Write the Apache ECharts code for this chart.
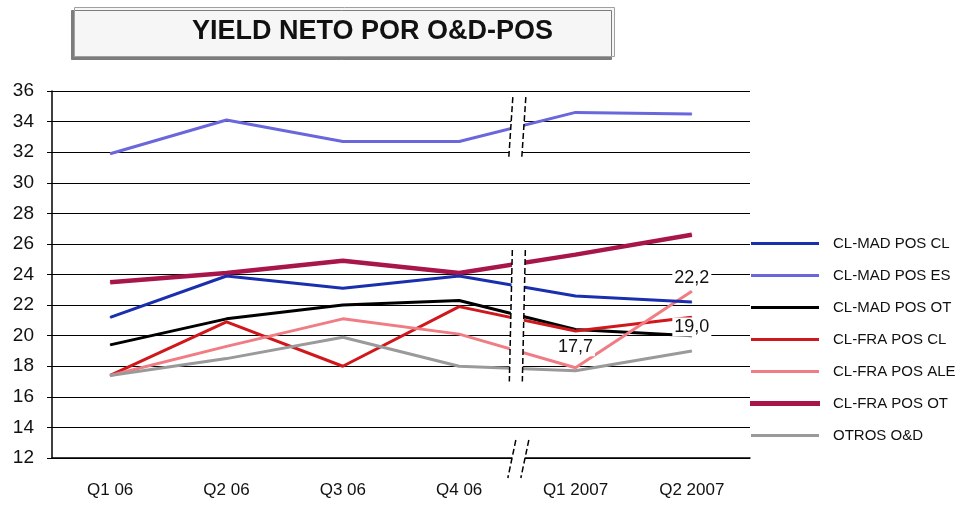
<!DOCTYPE html>
<html>
<head>
<meta charset="utf-8">
<script src="https://cdn.jsdelivr.net/npm/echarts@6/dist/echarts.min.js"></script>
<style>
  html, body { margin: 0; padding: 0; background: #ffffff; }
  #chart { width: 974px; height: 508px; }
</style>
</head>
<body>
<div id="chart"></div>
<script>
// Quarterly net yield by O&D / point of sale
const categories = ['Q1 06', 'Q2 06', 'Q3 06', 'Q4 06', 'Q1 2007', 'Q2 2007'];

const madPosCl  = [21.2, 23.9, 23.1, 23.9, 22.6, 22.2];
const madPosEs  = [31.9, 34.1, 32.7, 32.7, 34.6, 34.5];
const madPosOt  = [19.4, 21.1, 22.0, 22.3, 20.4, 20.0];
const fraPosCl  = [17.4, 20.9, 18.0, 21.9, 20.3, 21.2];
const fraPosAle = [17.4, 19.3, 21.1, 20.1, 17.9, 22.9];
const fraPosOt  = [23.5, 24.1, 24.9, 24.1, 25.3, 26.6];
const otrosOd   = [17.4, 18.5, 19.9, 18.0, 17.7, 19.0];

// value axis ticks
const yMin = 12, yMax = 36, yStep = 2;

// points that show their value: [series name, category index]
const labelledPoints = [
  ['CL-MAD POS CL', 5],
  ['OTROS O&D', 4],
  ['OTROS O&D', 5]
];

const FONT = '"Liberation Sans", Arial, sans-serif';

const seriesDefs = [
  { name: 'CL-MAD POS CL',  data: madPosCl,  color: '#1a2fae', width: 3 },
  { name: 'CL-MAD POS ES',  data: madPosEs,  color: '#6a66dc', width: 3 },
  { name: 'CL-MAD POS OT',  data: madPosOt,  color: '#000000', width: 3 },
  { name: 'CL-FRA POS CL',  data: fraPosCl,  color: '#d0181c', width: 3 },
  { name: 'CL-FRA POS ALE', data: fraPosAle, color: '#f07c84', width: 3 },
  { name: 'CL-FRA POS OT',  data: fraPosOt,  color: '#a8154a', width: 4.5 },
  { name: 'OTROS O&D',      data: otrosOd,   color: '#9a9a9a', width: 3 }
];

const fmt = v => v.toFixed(1).replace('.', ',');

const series = seriesDefs.map(def => {
  const marks = labelledPoints.filter(p => p[0] === def.name).map(p => p[1]);
  return {
    name: def.name,
    type: 'line',
    symbol: 'circle',
    symbolSize: 1,
    showSymbol: true,
    showAllSymbol: true,
    smooth: false,
    z: marks.length ? 4 : 2,
    color: def.color,
    itemStyle: { color: def.color },
    lineStyle: { color: def.color, width: def.width },
    data: def.data.map((v, i) => marks.includes(i) ? {
      value: v,
      label: {
        show: true,
        position: 'top',
        distance: 14,
        formatter: p => fmt(p.value),
        fontFamily: FONT,
        fontSize: 18,
        color: '#111',
        backgroundColor: '#ffffff',
        padding: [1, 2, 0, 2]
      }
    } : v)
  };
});

const chart = echarts.init(document.getElementById('chart'), null, { renderer: 'canvas' });

chart.setOption({
  animation: false,
  backgroundColor: '#ffffff',
  title: {
    text: 'YIELD NETO POR O&D-POS',
    left: 74,
    top: 7,
    padding: [11, 62, 11, 118],
    backgroundColor: '#f6f6f6',
    borderColor: '#a0a0a0',
    borderWidth: 1,
    shadowColor: '#7c7c7c',
    shadowBlur: 0,
    shadowOffsetX: -3,
    shadowOffsetY: 3,
    textStyle: {
      fontFamily: FONT,
      fontSize: 27,
      fontWeight: 'bold',
      color: '#111',
      lineHeight: 28
    }
  },
  legend: {
    orient: 'vertical',
    left: 750,
    top: 236,
    padding: 0,
    icon: 'rect',
    itemWidth: 68,
    itemHeight: 3,
    itemGap: 17,
    textStyle: {
      fontFamily: FONT,
      fontSize: 15,
      color: '#111',
      padding: [0, 0, 0, 9]
    },
    data: seriesDefs.map(d => ({
      name: d.name,
      itemStyle: d.width > 4
        ? { color: d.color, borderColor: d.color, borderWidth: 2 }
        : { color: d.color, borderWidth: 0 }
    }))
  },
  grid: { left: 52, right: 224, top: 91, bottom: 50, containLabel: false },
  xAxis: {
    type: 'category',
    data: categories,
    boundaryGap: true,
    axisLine: { lineStyle: { color: '#000', width: 1.5 } },
    axisTick: { show: false },
    axisLabel: { fontFamily: FONT, fontSize: 17, color: '#111', margin: 24 },
    splitLine: { show: false }
  },
  yAxis: {
    type: 'value',
    min: yMin,
    max: yMax,
    interval: yStep,
    axisLine: { show: true, lineStyle: { color: '#000', width: 1.5 } },
    axisTick: { show: true, length: 5, lineStyle: { color: '#000', width: 1 } },
    axisLabel: { fontFamily: FONT, fontSize: 19, color: '#111', margin: 18 },
    splitLine: { show: true, lineStyle: { color: '#000', width: 1 } }
  },
  series: series
});

// Axis-break marks between Q4 06 and Q1 2007
function breakMark(xMid, yTop, yBot, slant, halfGap) {
  const lx1 = xMid - halfGap + slant / 2, lx2 = xMid - halfGap - slant / 2;
  const rx1 = xMid + halfGap + slant / 2, rx2 = xMid + halfGap - slant / 2;
  const dash = { stroke: '#000', lineWidth: 1.5, lineDash: [6, 3], fill: null };
  return [
    {
      type: 'polygon', z: 100, silent: true,
      shape: { points: [[lx1, yTop], [rx1, yTop], [rx2, yBot], [lx2, yBot]] },
      style: { fill: '#ffffff', stroke: null }
    },
    { type: 'polyline', z: 101, silent: true, shape: { points: [[lx1, yTop], [lx2, yBot]] }, style: dash },
    { type: 'polyline', z: 101, silent: true, shape: { points: [[rx1, yTop], [rx2, yBot]] }, style: dash }
  ];
}

function drawBreaks() {
  const xa = chart.convertToPixel({ xAxisIndex: 0 }, categories[3]);
  const xb = chart.convertToPixel({ xAxisIndex: 0 }, categories[4]);
  const xMid = (xa + xb) / 2;
  const py = v => chart.convertToPixel({ yAxisIndex: 0 }, v);
  const axisY = py(yMin);
  const els = [].concat(
    breakMark(xMid, py(35.6), py(31.7), 4, 6.5),
    breakMark(xMid, py(25.6), py(17.0), 3, 6.5),
    breakMark(xMid + 1, axisY - 18, axisY + 20, 8, 6.5)
  );
  chart.setOption({ graphic: { elements: els } });
}
drawBreaks();
</script>
</body>
</html>
